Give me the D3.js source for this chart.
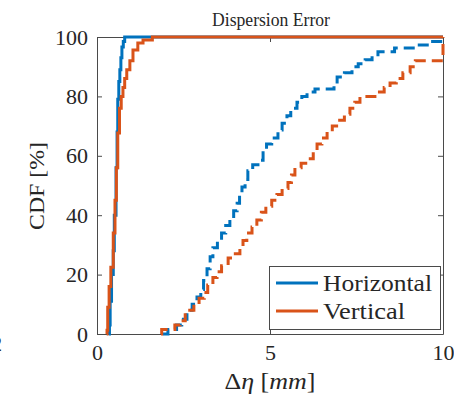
<!DOCTYPE html>
<html>
<head>
<meta charset="utf-8">
<script src="https://cdn.jsdelivr.net/npm/d3@7"></script>
<style>
  html, body { margin: 0; padding: 0; background: #fff; }
  svg { display: block; }
  text { font-family: "Liberation Serif", "DejaVu Serif", serif; fill: #262626; }
</style>
</head>
<body>
<svg id="chart" width="454" height="405"></svg>
<script>
// ---- Data ----
const seriesNames = ["Horizontal", "Vertical"];
const xTicks = [0, 5, 10];
const yTicks = [0, 20, 40, 60, 80, 100];

// Solid curves: [error mm, CDF %] step points
const horizSolidX = [0.34, 0.36, 0.38, 0.42, 0.47, 0.50, 0.55, 0.58, 0.60, 0.63, 0.66, 0.69, 0.72, 0.76, 0.80, 10];
const horizSolidY = [0, 3, 11, 20, 28, 40, 56, 68, 79, 85, 89, 93, 96.6, 98.5, 100, 100];
const vertSolidX = [0.28, 0.29, 0.31, 0.35, 0.40, 0.47, 0.52, 0.56, 0.60, 0.65, 0.70, 0.75, 0.80, 0.86, 0.95, 1.04, 1.18, 1.33, 1.60, 10];
const vertSolidY = [0, 1.3, 9, 16, 22.5, 34, 45, 56, 67.7, 76, 80, 83, 86, 89, 92, 95.6, 98, 99, 100, 100];

// Dashed curves
const horizDashX = [1.90, 2.05, 2.30, 2.45, 2.60, 2.75, 2.89, 3.00, 3.08, 3.18, 3.27, 3.35, 3.48, 3.60, 3.72, 3.84, 3.95, 4.05, 4.12, 4.19, 4.28, 4.36, 4.50, 4.70, 4.80, 4.90, 5.05, 5.23, 5.35, 5.49, 5.60, 5.78, 5.92, 6.07, 6.30, 6.85, 6.94, 7.15, 7.37, 7.55, 7.75, 7.95, 8.12, 8.60, 9.25, 9.70, 10];
const horizDashY = [0, 1.5, 3, 5, 8, 10, 12.5, 15, 18, 22, 26, 29, 31.5, 34, 36.5, 39, 41.5, 44, 47, 49.5, 52, 55, 57, 58.5, 61, 64, 66, 68.7, 71, 73.5, 76, 78, 80, 81.5, 82.5, 84, 86.5, 88, 90, 91, 92.3, 93.5, 95, 96.3, 97.3, 98.5, 100];
const vertDashX = [1.85, 1.87, 2.25, 2.40, 2.55, 2.63, 2.80, 2.95, 3.10, 3.20, 3.35, 3.47, 3.60, 3.79, 3.95, 4.13, 4.22, 4.33, 4.48, 4.62, 4.75, 4.88, 5.05, 5.20, 5.35, 5.52, 5.62, 5.72, 5.90, 6.10, 6.25, 6.36, 6.50, 6.65, 6.80, 6.97, 7.15, 7.31, 7.45, 7.60, 8.09, 8.30, 8.47, 8.65, 8.84, 9.05, 9.20, 10];
const vertDashY = [0, 1.5, 3, 4.5, 6.5, 8, 10, 12, 14, 16.5, 19, 21, 23, 25.6, 27, 29, 31.5, 34, 36, 38.4, 41, 43, 45, 47, 49, 51, 53.5, 56, 57.5, 59, 61.5, 64, 66, 68, 70, 72, 74, 76, 78, 80, 81.5, 83, 84.5, 86, 88, 90, 92, 100];

const colors = ["#0072BD", "#D95319"];

// ---- Layout ----
const svg = d3.select("#chart");
const L = 97, R = 443, T = 37, B = 334;
const x = d3.scaleLinear().domain([0, 10]).range([L, R]);
const y = d3.scaleLinear().domain([0, 100]).range([B, T]);

const zip = (a, b) => a.map((v, i) => [v, b[i]]);
const line = d3.line().x(d => x(d[0])).y(d => y(d[1])).curve(d3.curveStepAfter);

svg.append("defs").append("clipPath").attr("id", "clip")
  .append("rect").attr("x", L - 2).attr("y", T - 3).attr("width", R - L + 4).attr("height", B - T + 5);

// Axes (box with inward ticks)
const axisColor = "#4a4a4a";
const tl = 5;
const gAx = svg.append("g");
const axB = d3.axisBottom(x).tickValues(xTicks).tickSizeInner(-tl).tickSizeOuter(0).tickPadding(10);
const axT = d3.axisTop(x).tickValues(xTicks).tickSizeInner(-tl).tickSizeOuter(0).tickFormat("");
const axLft = d3.axisLeft(y).tickValues(yTicks).tickSizeInner(-tl).tickSizeOuter(0).tickPadding(9);
const axRgt = d3.axisRight(y).tickValues(yTicks).tickSizeInner(-tl).tickSizeOuter(0).tickFormat("");

function styleAxis(g) {
  g.select(".domain").attr("stroke", axisColor).attr("stroke-width", 1);
  g.selectAll(".tick line").attr("stroke", axisColor).attr("stroke-width", 1);
  g.selectAll(".tick text").attr("fill", "#262626")
    .style("font-family", '"Liberation Serif", "DejaVu Serif", serif').style("font-size", "22px");
}
gAx.append("g").attr("transform", `translate(0,${B})`).call(axB).call(styleAxis);
gAx.append("g").attr("transform", `translate(0,${T})`).call(axT).call(styleAxis);
gAx.append("g").attr("transform", `translate(${L},0)`).call(axLft).call(styleAxis);
gAx.append("g").attr("transform", `translate(${R},0)`).call(axRgt).call(styleAxis);

// Lines
const gL = svg.append("g").attr("clip-path", "url(#clip)");
const curves = [
  { d: zip(horizDashX, horizDashY), c: colors[0], dash: "11,6" },
  { d: zip(vertDashX, vertDashY), c: colors[1], dash: "11,6" },
  { d: zip(horizSolidX, horizSolidY), c: colors[0], dash: null },
  { d: zip(vertSolidX, vertSolidY), c: colors[1], dash: null },
];
curves.forEach(s => {
  gL.append("path").datum(s.d).attr("d", line)
    .attr("fill", "none").attr("stroke", s.c).attr("stroke-width", 3)
    .attr("stroke-dasharray", s.dash);
});

// Title
svg.append("text").attr("x", 271).attr("y", 26).attr("text-anchor", "middle")
  .attr("textLength", 118).attr("lengthAdjust", "spacingAndGlyphs")
  .style("font-size", "19.5px").text("Dispersion Error");

// Axis labels
const xl = svg.append("text").attr("x", 270).attr("y", 389).attr("text-anchor", "middle")
  .attr("textLength", 91).attr("lengthAdjust", "spacingAndGlyphs").style("font-size", "23px");
xl.append("tspan").text("Δ");
xl.append("tspan").attr("font-style", "italic").text("η");
xl.append("tspan").text(" [");
xl.append("tspan").attr("font-style", "italic").text("mm");
xl.append("tspan").text("]");

svg.append("text").attr("transform", "translate(44,186) rotate(-90)").attr("text-anchor", "middle")
  .attr("textLength", 88).attr("lengthAdjust", "spacingAndGlyphs")
  .style("font-size", "22px").text("CDF [%]");

// stray clipped glyph at left edge
svg.append("text").attr("x", -8).attr("y", 351).attr("fill", "#262626").style("font-size", "20px").text("2");

// Legend
const legendLens = [109, 82];
const lg = svg.append("g");
lg.append("rect").attr("x", 269.5).attr("y", 266.5).attr("width", 171).attr("height", 63)
  .attr("fill", "#fff").attr("stroke", axisColor).attr("stroke-width", 1);
seriesNames.forEach((n, i) => {
  const yy = 283 + i * 28;
  lg.append("line").attr("x1", 276).attr("x2", 318).attr("y1", yy).attr("y2", yy)
    .attr("stroke", colors[i]).attr("stroke-width", 3);
  lg.append("text").attr("x", 323).attr("y", yy + 8)
    .attr("textLength", legendLens[i]).attr("lengthAdjust", "spacingAndGlyphs")
    .style("font-size", "23px").text(n);
});
</script>
</body>
</html>
